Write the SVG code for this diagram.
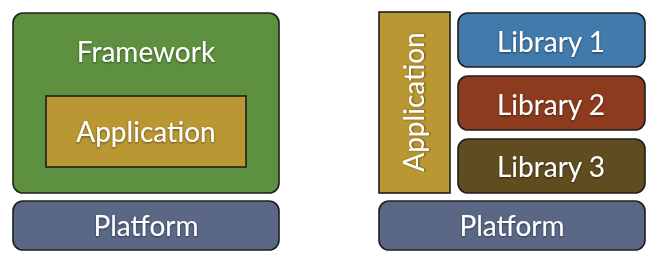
<svg xmlns="http://www.w3.org/2000/svg" width="660" height="265" viewBox="0 0 660 265">
<defs>
<filter id="ts" x="-10%" y="-30%" width="120%" height="160%">
<feDropShadow dx="0" dy="1" stdDeviation="1" flood-color="#000" flood-opacity="0.5"/>
</filter>
</defs>
<style>
.box{stroke:#1e1e1e;stroke-width:1.6}
.lbl{font-family:Lato,"Open Sans",sans-serif;font-size:28px;fill:#fff;text-anchor:middle;filter:url(#ts)}
.green{fill:#5e913f}
.gold{fill:#b99732}
.plat{fill:#5a6886}
.lib1{fill:#427aab}
.lib2{fill:#8c3b1f}
.lib3{fill:#5f4c1f}
</style>
<rect width="660" height="265" fill="#fff"/>
<g id="framework">
<rect class="box green" x="13" y="13" width="266" height="180" rx="10"/>
<text class="lbl" x="146" y="62">Framework</text>
</g>
<g id="application-left">
<rect class="box gold" x="46" y="96" width="200" height="71"/>
<text class="lbl" x="146" y="142">Application</text>
</g>
<g id="platform-left">
<rect class="box plat" x="13" y="201" width="266" height="49" rx="10"/>
<text class="lbl" x="146" y="236">Platform</text>
</g>
<g id="application-right">
<rect class="box gold" x="379" y="12" width="71" height="181"/>
<text class="lbl" transform="translate(424 102) rotate(-90)" x="0" y="0">Application</text>
</g>
<g id="library1">
<rect class="box lib1" x="458" y="13" width="187" height="54" rx="10"/>
<text class="lbl" x="551" y="52">Library 1</text>
</g>
<g id="library2">
<rect class="box lib2" x="458" y="76" width="187" height="54" rx="10"/>
<text class="lbl" x="551" y="115">Library 2</text>
</g>
<g id="library3">
<rect class="box lib3" x="458" y="139" width="187" height="54" rx="10"/>
<text class="lbl" x="551" y="177">Library 3</text>
</g>
<g id="platform-right">
<rect class="box plat" x="379" y="201" width="266" height="49" rx="10"/>
<text class="lbl" x="512" y="236">Platform</text>
</g>
<g id="connectors"/>
</svg>
